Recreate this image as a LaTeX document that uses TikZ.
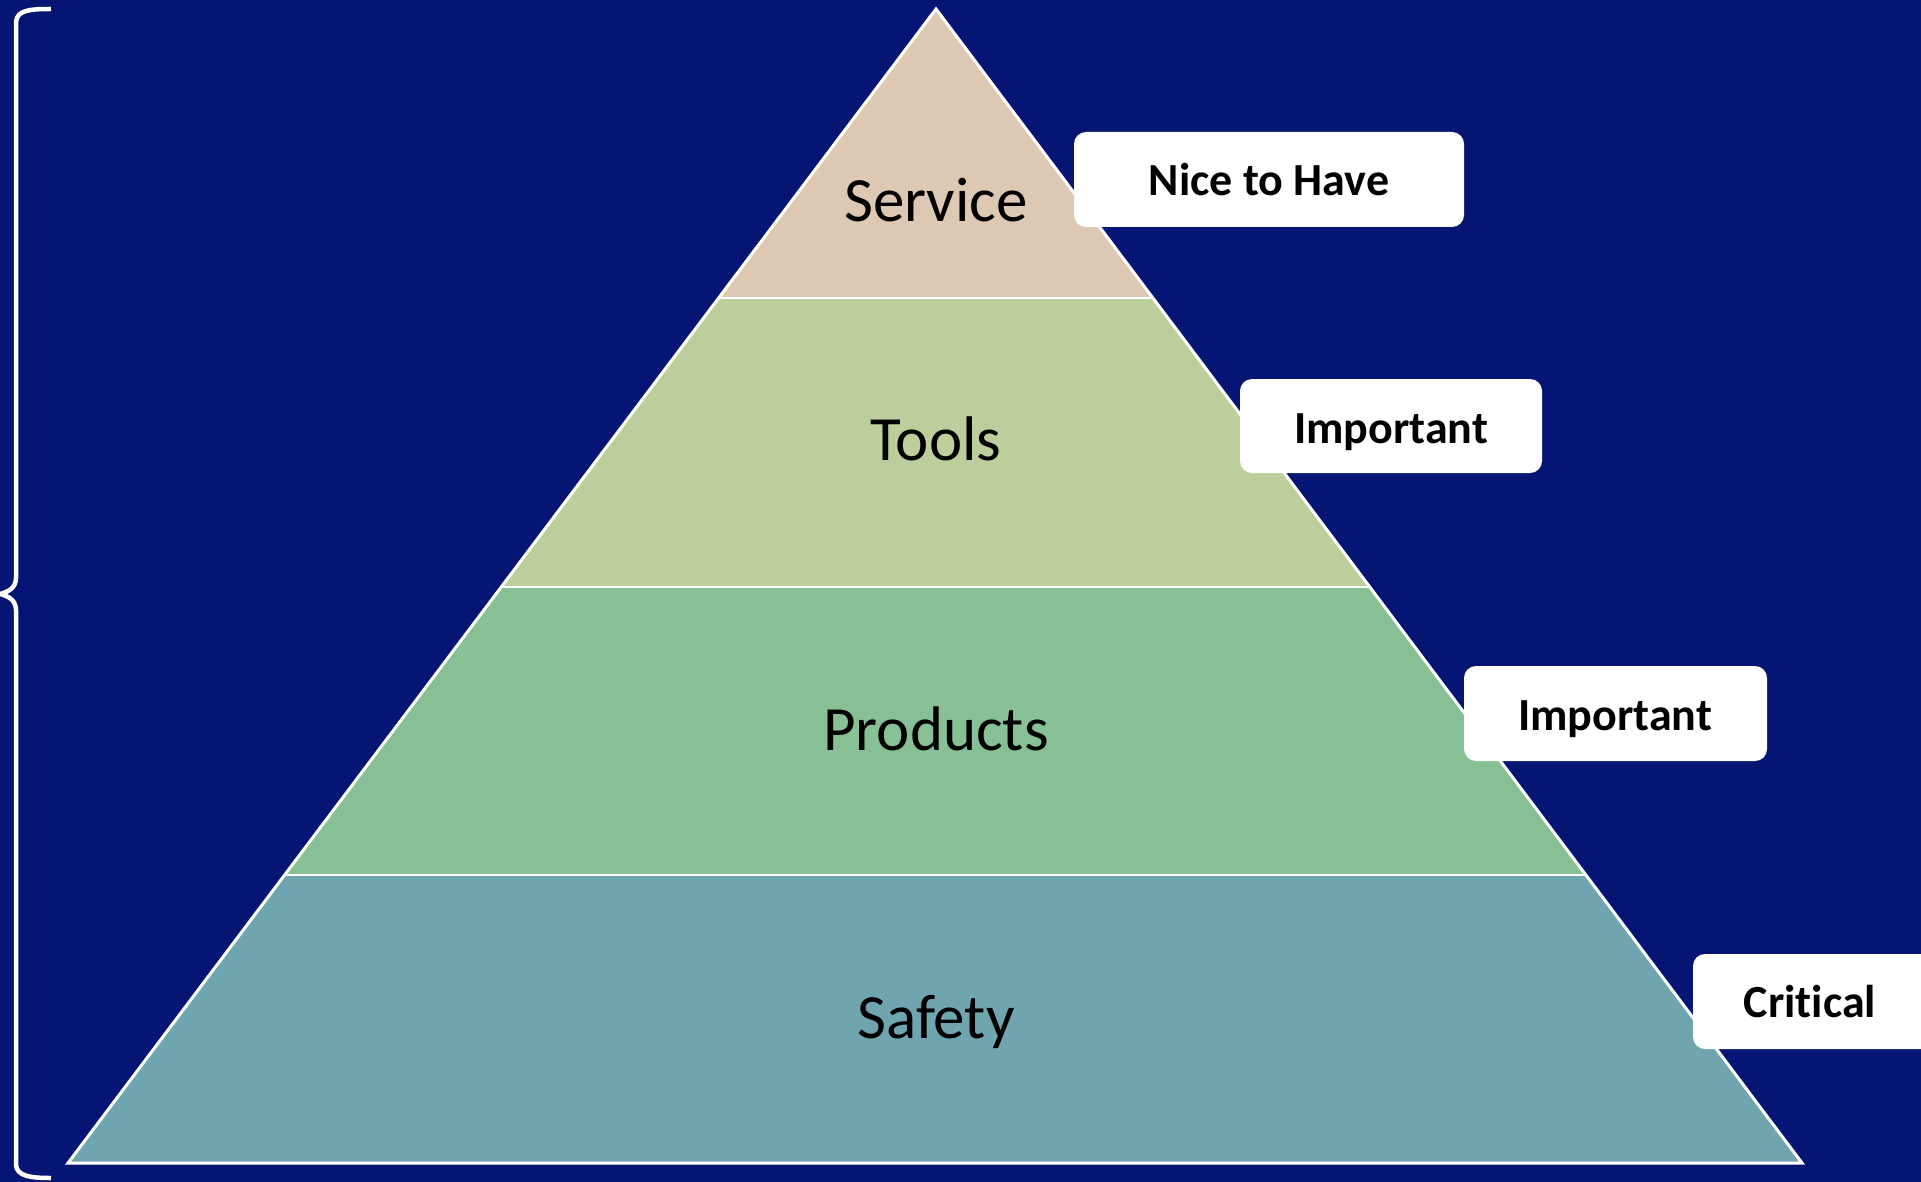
\documentclass[tikz,border=0pt]{standalone}
\usepackage{fontspec}
\setmainfont{Carlito}[Ligatures={NoCommon}]
\begin{document}
\definecolor{bg}{RGB}{6,21,115}
\definecolor{cservice}{RGB}{221,200,180}
\definecolor{ctools}{RGB}{187,206,156}
\definecolor{cproducts}{RGB}{134,192,148}
\definecolor{csafety}{RGB}{111,165,175}
\begin{tikzpicture}[x=1pt,y=-1pt,
  layertext/.style={font=\fontsize{63}{70}\selectfont, text=black, inner sep=0pt},
  tagbox/.style={fill=white, rounded corners=12pt, draw=none},
  tagtext/.style={font=\bfseries\fontsize{46}{52}\selectfont, text=black, inner sep=0pt, anchor=base},
  edge/.style={draw=white, line width=3pt, line join=miter},
  divider/.style={draw=white, line width=2.2pt}]
\fill[bg] (0,0) rectangle (1921,1182);
\useasboundingbox (0,0) rectangle (1921,1182);
% pyramid corners
\coordinate (apex) at (936,9);
\coordinate (bl) at (68,1163);
\coordinate (br) at (1802,1163);
\begin{scope}
\clip (apex) -- (br) -- (bl) -- cycle;
\fill[cservice] (0,0) rectangle (1921,298);
\fill[ctools] (0,298) rectangle (1921,587);
\fill[cproducts] (0,587) rectangle (1921,875);
\fill[csafety] (0,875) rectangle (1921,1182);
\end{scope}
\coordinate (l1) at (719,298); \coordinate (r1) at (1153,298);
\coordinate (l2) at (501,587); \coordinate (r2) at (1370,587);
\coordinate (l3) at (285,875); \coordinate (r3) at (1586,875);
\draw[divider] (l1) -- (r1);
\draw[divider] (l2) -- (r2);
\draw[divider] (l3) -- (r3);
\draw[edge] (apex) -- (br) -- (bl) -- cycle;
% layer labels
\node[layertext] (service) at (936,200) {Service};
\node[layertext] (tools) at (936,439) {Tools};
\node[layertext] (products) at (936,729) {Products};
\node[layertext] (safety) at (936,1022) {Safety};
% tag boxes
\path[tagbox] (1074,132) rectangle (1464,227);
\node[tagtext] (nice) at (1269,196) {Nice to Have};
\path[tagbox] (1240,379) rectangle (1542,473);
\node[tagtext] (imp1) at (1391,443) {Important};
\path[tagbox] (1464,666) rectangle (1767,761);
\node[tagtext] (imp2) at (1615,730) {Important};
\path[tagbox] (1693,954) rectangle (1950,1049);
\node[tagtext] (crit) at (1810,1017) {Critical};
% brace
\draw[white, line width=4.5pt, line cap=butt]
  (51,9) .. controls (30,9) and (17,10) .. (16,22)
  -- (16,578) .. controls (16,588) and (8,592) .. (0,594)
  .. controls (8,596) and (16,600) .. (16,610)
  -- (16,1165) .. controls (17,1176) and (30,1178) .. (51,1178);
\end{tikzpicture}
\end{document}
